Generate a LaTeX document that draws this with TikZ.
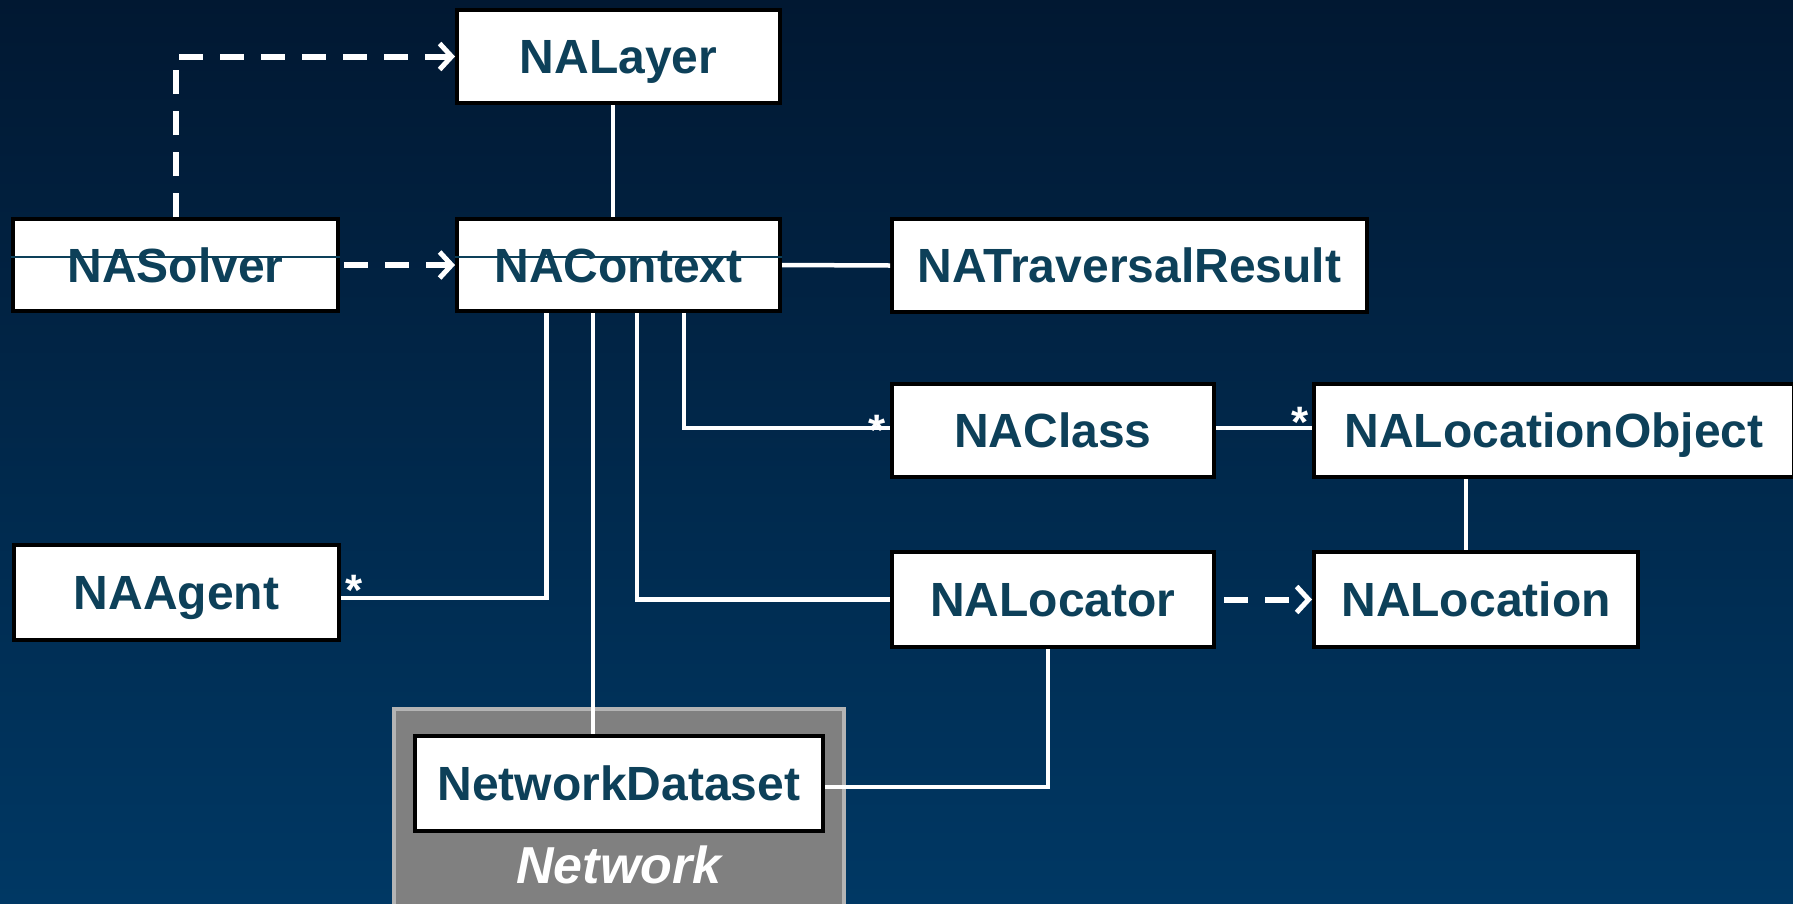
\documentclass[tikz,border=0pt]{standalone}
\usepackage{fontspec}
\setmainfont{Liberation Sans}
\usetikzlibrary{arrows.meta,calc}
\definecolor{txt}{RGB}{13,64,89}
\definecolor{bgtop}{RGB}{1,24,50}
\definecolor{bgbot}{RGB}{0,56,100}
\definecolor{grayfill}{RGB}{128,128,128}
\definecolor{grayedge}{RGB}{180,180,180}
\begin{document}
\begin{tikzpicture}[x=1pt,y=-1pt,
  cls/.style={draw=black, line width=4pt, fill=white, rectangle, inner sep=0pt,
    text=txt, font=\fontsize{48}{56}\selectfont\bfseries, text height=34.5pt, text depth=0pt},
  assoc/.style={draw=white, line width=4.5pt},
  dep/.style={draw=white, line width=6pt, dash pattern=on 24pt off 17pt,
    -{Straight Barb[length=12pt,width=26pt,line width=5pt]}},
  mult/.style={text=white, font=\fontsize{44}{44}\selectfont\bfseries, inner sep=0pt, anchor=base},
  strike/.style={draw=txt, line width=1.5pt}]
\fill[top color=bgtop, bottom color=bgbot] (0,0) rectangle (1793,903);
\useasboundingbox (0,0) rectangle (1793,903);

% package frame
\draw[fill=grayfill, draw=grayedge, line width=4pt] (393.5,709) rectangle (844,920);
\node[text=white, font=\fontsize{52}{60}\selectfont\bfseries\itshape, text height=37pt, text depth=0pt, inner sep=0pt] (netlbl) at (619,865) {Network};

% classes
\node[cls, minimum width=323pt, minimum height=93pt] (layer) at (618.5,56.5) {NALayer};
\node[cls, minimum width=325pt, minimum height=92pt] (solver) at (175.5,265) {NASolver};
\node[cls, minimum width=323pt, minimum height=92pt] (ctx) at (618.5,265) {NAContext};
\node[cls, minimum width=475pt, minimum height=93pt] (trav) at (1129.5,265.5) {NATraversalResult};
\node[cls, minimum width=322pt, minimum height=93pt] (cls) at (1053,430.5) {NAClass};
\node[cls, minimum width=480pt, minimum height=93pt] (locobj) at (1554,430.5) {NALocationObject};
\node[cls, minimum width=325pt, minimum height=95pt] (agent) at (176.5,592.5) {NAAgent};
\node[cls, minimum width=322pt, minimum height=95pt] (locator) at (1053,599.5) {NALocator};
\node[cls, minimum width=324pt, minimum height=95pt] (location) at (1476,599.5) {NALocation};
\node[cls, minimum width=408pt, minimum height=95pt] (nd) at (619,783.5) {NetworkDataset};

% thin lines across two boxes
\coordinate (ys) at (0,257);
\draw[strike] (solver.west |- ys) -- (solver.east |- ys);
\draw[strike] (ctx.west |- ys) -- (ctx.east |- ys);

% helper coordinates
\coordinate (xL) at (613,0);
\coordinate (xA) at (546.5,0);
\coordinate (xN) at (593,0);
\coordinate (xR) at (637,0);
\coordinate (xC) at (684,0);
\coordinate (xO) at (1466,0);
\coordinate (xD) at (1048,0);
\coordinate (yA) at (0,598);
\coordinate (yC) at (0,428);
\coordinate (yD) at (0,787);

% connectors
\draw[dep] (solver.north) |- (layer.west);
\draw[dep, shorten <=4pt] (solver.east) -- (ctx.west);
\draw[assoc] (layer.south -| xL) -- (ctx.north -| xL);
\draw[assoc] (ctx.east) -- (trav.west);
\draw[assoc] (ctx.south -| xA) -- (xA |- yA) -- (agent.east |- yA);
\draw[assoc] (ctx.south -| xN) -- (nd.north -| xN);
\draw[assoc] (ctx.south -| xR) |- (locator.west);
\draw[assoc] (ctx.south -| xC) -- (xC |- yC) -- (cls.west |- yC);
\draw[assoc] (cls.east |- yC) -- (locobj.west |- yC);
\draw[assoc] (locobj.south -| xO) -- (location.north -| xO);
\draw[dep, shorten <=8pt] (locator.east) -- (location.west);
\draw[assoc] (locator.south -| xD) -- (xD |- yD) -- (nd.east |- yD);

% multiplicities
\node[mult] (m1) at (877,445) {*};
\node[mult] (m2) at (1300,437) {*};
\node[mult] (m3) at (354.5,605) {*};
\end{tikzpicture}
\end{document}
